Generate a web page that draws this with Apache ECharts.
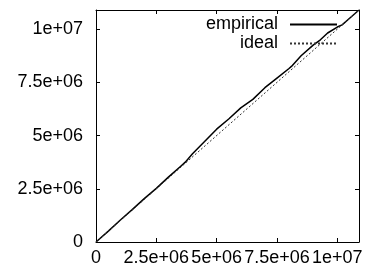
<!DOCTYPE html>
<html><head><meta charset="utf-8">
<script src="https://cdn.jsdelivr.net/npm/echarts@6/dist/echarts.min.js"></script>
<style>html,body{margin:0;padding:0;background:#fff}#c{width:376px;height:270px}</style>
</head><body><div id="c"></div>
<script>
var empiricalX = [0,0.5,1.0,1.5,2.0,2.5,3.0,3.5,3.7,4.0,4.5,5.0,5.5,6.0,6.5,7.0,7.5,8.0,8.1,8.5,9.0,9.3,9.6,10.0,10.2,10.5,10.9];
var empiricalY = [0,0.5,1.02,1.52,2.04,2.52,3.05,3.55,3.75,4.15,4.72,5.3,5.78,6.3,6.7,7.25,7.7,8.15,8.25,8.75,9.25,9.5,9.82,10.1,10.2,10.5,10.9];
var idealX = [0,10.9];
var idealY = [0,10.9];
var tickLabels = {0:'0',2500000:'2.5e+06',5000000:'5e+06',7500000:'7.5e+06',10000000:'1e+07'};
var seriesNames = ['empirical','ideal'];

function pairs(xs, ys){ return xs.map(function(x,i){ return [x*1e6, ys[i]*1e6]; }); }

var font = 'Liberation Sans';
function axisBase(pos, show){
  return {
    type:'value', position:pos, min:0, max:10900000, interval:2500000,
    axisLine:{show:true, onZero:false, lineStyle:{color:'#000', width:1}},
    axisTick:{show:true, inside:true, length:4, lineStyle:{color:'#000'}},
    splitLine:{show:false},
    axisLabel:{show:show, color:'#000', fontFamily:font, fontSize:18,
      formatter:function(v){ return tickLabels[v]!==undefined ? tickLabels[v] : ''; }}
  };
}
var xb = axisBase('bottom', true); xb.axisLabel.margin = 7;
var yl = axisBase('left', true); yl.axisLabel.margin = 13;
var chart = echarts.init(document.getElementById('c'), null, {renderer:'canvas'});
chart.setOption({
  animation:false,
  backgroundColor:'#fff',
  grid:{left:96, right:17, top:10, bottom:28, containLabel:false},
  xAxis:[xb, axisBase('top', false)],
  yAxis:[yl, axisBase('right', false)],
  legend:{
    orient:'vertical', right:38, top:15, align:'right', padding:0,
    itemWidth:47, itemHeight:10, itemGap:0,
    itemStyle:{opacity:0},
    textStyle:{color:'#000', fontFamily:font, fontSize:18, lineHeight:19, padding:[0,7,0,0]},
    data:seriesNames
  },
  series:[
    {name:seriesNames[0], type:'line', symbol:'none', data:pairs(empiricalX, empiricalY),
     lineStyle:{color:'#000', width:1.5}, itemStyle:{color:'#000'}},
    {name:seriesNames[1], type:'line', symbol:'none', data:pairs(idealX, idealY),
     lineStyle:{color:'#333', width:1, type:[2,2]}, itemStyle:{color:'#333'}}
  ]
});
</script></body></html>
